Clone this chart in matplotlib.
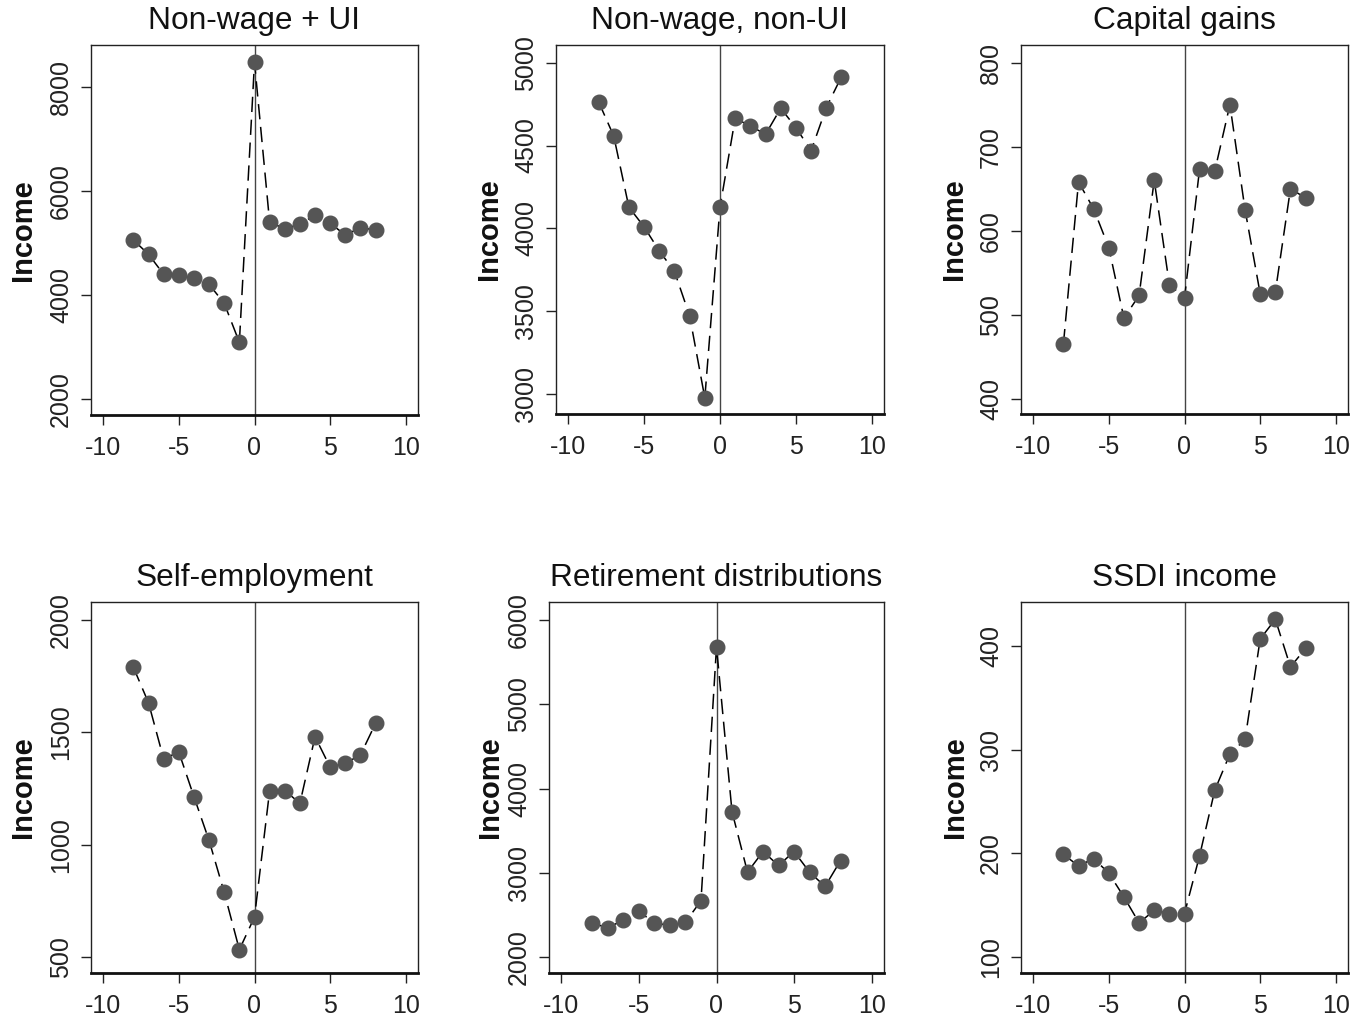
import matplotlib
matplotlib.use("Agg")
import matplotlib.pyplot as plt
import numpy as np

plt.rcParams['font.family'] = ['Liberation Sans', 'DejaVu Sans']

x = [-8, -7, -6, -5, -4, -3, -2, -1, 0, 1, 2, 3, 4, 5, 6, 7, 8]

titles = ["Non-wage + UI", "Non-wage, non-UI", "Capital gains",
          "Self-employment", "Retirement distributions", "SSDI income"]

nonwage_ui = [5061, 4785, 4400, 4381, 4323, 4207, 3842, 3091, 8481,
              5401, 5279, 5363, 5542, 5382, 5157, 5298, 5253]
nonwage_nonui = [4765, 4558, 4128, 4009, 3864, 3740, 3472, 2976, 4128,
                 4664, 4618, 4568, 4725, 4608, 4469, 4729, 4916]
capital_gains = [465, 658, 626, 580, 496, 523, 660, 536, 520,
                 674, 671, 750, 625, 525, 527, 650, 639]
self_employment = [1790, 1632, 1382, 1413, 1214, 1019, 788, 533, 678,
                   1241, 1241, 1185, 1481, 1345, 1363, 1400, 1541]
retirement = [2403, 2344, 2443, 2542, 2403, 2376, 2415, 2668, 5684,
              3727, 3008, 3253, 3087, 3253, 3008, 2838, 3146]
ssdi = [199, 188, 195, 181, 158, 133, 145, 142, 142,
        198, 261, 296, 310, 407, 426, 380, 398]

series = [nonwage_ui, nonwage_nonui, capital_gains, self_employment, retirement, ssdi]

yticks = [[2000, 4000, 6000, 8000],
          [3000, 3500, 4000, 4500, 5000],
          [400, 500, 600, 700, 800],
          [500, 1000, 1500, 2000],
          [2000, 3000, 4000, 5000, 6000],
          [100, 200, 300, 400]]
xticks = [-10, -5, 0, 5, 10]

ylims = [(1692, 8815), (2879, 5107), (382, 821),
         (429, 2081), (1810, 6217), (84.6, 442.7)]
xlim = (-10.8, 10.8)

W, H = 1361, 1019
# boxes in pixels: left, right, top, bottom
boxes = [(91, 418, 45, 415), (556, 884, 45, 414), (1021, 1348, 45, 414),
         (91, 418, 602, 973), (549, 884, 602, 973), (1021, 1348, 602, 973)]
ylabel_px = [23, 489, 954, 23, 490, 955]
title_py = [21, 21, 21, 578, 578, 578]

fig = plt.figure(figsize=(W / 100, H / 100), dpi=100)

for i in range(6):
    l, r, t, b = boxes[i]
    ax = fig.add_axes([l / W, 1 - b / H, (r - l) / W, (b - t) / H])
    ax.axvline(0, color='#444444', lw=1.0, zorder=1)
    ax.plot(x, series[i], color='black', lw=1.1, linestyle=(0, (10, 5)), zorder=2)
    ax.plot(x, series[i], linestyle='none', marker='o', markersize=10.5,
            markerfacecolor='#555555', markeredgecolor='#555555', zorder=3)
    ax.set_xlim(*xlim)
    ax.set_ylim(*ylims[i])
    ax.set_xticks(xticks)
    ax.set_xticklabels([str(v) for v in xticks])
    ax.set_yticks(yticks[i])
    ax.set_yticklabels([str(v) for v in yticks[i]], rotation=90, va='center')
    ax.tick_params(axis='both', direction='out', length=7, width=1,
                   labelsize=18, colors='#222222')
    ax.tick_params(axis='x', pad=8)
    ax.tick_params(axis='y', pad=6)
    for s in ['top', 'right', 'left']:
        ax.spines[s].set_linewidth(1.0)
        ax.spines[s].set_color('#222222')
    ax.spines['bottom'].set_linewidth(2.0)
    ax.spines['bottom'].set_color('#111111')
    ax.set_ylabel("Income", fontsize=21, fontweight='bold', color='#111111')
    ax.yaxis.label.set_va('center')
    ax.yaxis.label.set_rotation_mode('default')
    ax.yaxis.set_label_coords((ylabel_px[i] - l) / (r - l), 0.5)
    fig.text((l + r) / 2 / W, 1 - title_py[i] / H, titles[i], fontsize=22.8,
             ha='center', va='center', color='#111111')

fig.savefig("out.png", dpi=100)
